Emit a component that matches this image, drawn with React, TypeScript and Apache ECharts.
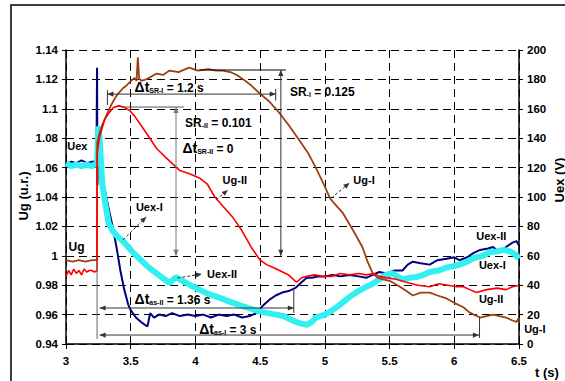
import React, { useEffect, useRef } from "react";
import * as echarts from "echarts";

const FONT = '"Liberation Sans", Arial, Helvetica, sans-serif';

// Ug-I (brown, left axis, u.r.)
const ugITime = [3.0, 3.05, 3.1, 3.15, 3.2, 3.24, 3.241, 3.26, 3.28, 3.31, 3.34, 3.37, 3.4, 3.44, 3.47, 3.49, 3.53, 3.545, 3.555, 3.565, 3.58, 3.62, 3.66, 3.7, 3.75, 3.8, 3.87, 3.95, 4.02, 4.1, 4.16, 4.21, 4.27, 4.32, 4.37, 4.43, 4.49, 4.57, 4.65, 4.72, 4.8, 4.87, 4.93, 5.0, 5.04, 5.09, 5.14, 5.22, 5.29, 5.33, 5.37, 5.41, 5.45, 5.5, 5.58, 5.63, 5.68, 5.74, 5.81, 5.87, 5.94, 6.0, 6.07, 6.11, 6.15, 6.2, 6.25, 6.3, 6.35, 6.4, 6.45, 6.48, 6.5];
const ugIValues = [0.997, 0.996, 0.997, 0.996, 0.997, 0.997, 1.077, 1.084, 1.089, 1.095, 1.101, 1.106, 1.11, 1.114, 1.116, 1.118, 1.121, 1.119, 1.135, 1.121, 1.119, 1.12, 1.122, 1.124, 1.123, 1.126, 1.125, 1.128, 1.126, 1.127, 1.126, 1.126, 1.125, 1.123, 1.12, 1.116, 1.111, 1.105, 1.097, 1.089, 1.079, 1.07, 1.06, 1.047, 1.039, 1.034, 1.029, 1.017, 1.006, 0.996, 0.988, 0.985, 0.984, 0.983, 0.979, 0.976, 0.973, 0.975, 0.975, 0.973, 0.971, 0.968, 0.965, 0.962, 0.96, 0.958, 0.959, 0.96, 0.959, 0.958, 0.956, 0.955, 0.958];

// Ug-II (red, left axis, u.r.)
const ugIITime = [3.0, 3.02, 3.04, 3.06, 3.08, 3.1, 3.12, 3.14, 3.16, 3.18, 3.2, 3.22, 3.24, 3.241, 3.26, 3.3, 3.33, 3.37, 3.41, 3.45, 3.49, 3.53, 3.57, 3.64, 3.7, 3.77, 3.83, 3.88, 3.95, 4.03, 4.09, 4.15, 4.22, 4.29, 4.36, 4.43, 4.5, 4.55, 4.6, 4.65, 4.72, 4.78, 4.82, 4.86, 4.92, 4.98, 5.05, 5.12, 5.19, 5.26, 5.32, 5.38, 5.42, 5.48, 5.55, 5.63, 5.72, 5.81, 5.88, 5.95, 6.02, 6.07, 6.12, 6.17, 6.25, 6.33, 6.4, 6.45, 6.5];
const ugIIValues = [0.986, 0.99, 0.987, 0.991, 0.988, 0.99, 0.987, 0.991, 0.989, 0.99, 0.99, 0.989, 0.99, 1.07, 1.081, 1.093, 1.097, 1.101, 1.102, 1.101, 1.099, 1.095, 1.09, 1.081, 1.073, 1.067, 1.062, 1.058, 1.056, 1.053, 1.049, 1.04, 1.033, 1.026, 1.017, 1.006, 0.997, 0.994, 0.992, 0.99, 0.987, 0.982, 0.985, 0.986, 0.987, 0.986, 0.986, 0.988, 0.987, 0.988, 0.987, 0.988, 0.986, 0.985, 0.984, 0.982, 0.98, 0.979, 0.981, 0.98, 0.979, 0.979, 0.977, 0.975, 0.977, 0.978, 0.977, 0.979, 0.98];

// Uex-II (navy, right axis, V)
const uexIITime = [3.0, 3.04, 3.08, 3.12, 3.16, 3.2, 3.235, 3.24, 3.243, 3.25, 3.26, 3.28, 3.3, 3.33, 3.36, 3.39, 3.42, 3.45, 3.48, 3.5, 3.54, 3.58, 3.61, 3.63, 3.65, 3.68, 3.72, 3.77, 3.82, 3.88, 3.94, 4.0, 4.06, 4.12, 4.18, 4.24, 4.3, 4.36, 4.42, 4.47, 4.52, 4.57, 4.62, 4.67, 4.72, 4.77, 4.82, 4.86, 4.9, 4.95, 5.0, 5.06, 5.12, 5.19, 5.26, 5.32, 5.37, 5.42, 5.48, 5.54, 5.6, 5.64, 5.68, 5.74, 5.81, 5.87, 5.94, 6.0, 6.04, 6.1, 6.15, 6.2, 6.26, 6.3, 6.35, 6.4, 6.45, 6.48, 6.5];
const uexIIValues = [122, 124, 123, 125, 123, 124, 124, 188, 108, 140, 125, 113, 105, 92, 80, 66, 50, 37, 27, 23, 18, 15, 13, 12, 21, 18, 20, 19, 21, 19, 20, 19, 20, 18, 20, 19, 20, 18, 19, 21, 26, 30, 33, 35, 36, 38, 42, 45, 45, 46, 46, 47, 46, 47, 46, 45, 47, 49, 48, 50, 50, 54, 56, 55, 54, 57, 58, 59, 57, 59, 62, 64, 65, 66, 62, 66, 69, 70, 67];

// Uex-I (cyan, right axis, V)
const uexITime = [3.0, 3.04, 3.08, 3.12, 3.16, 3.2, 3.24, 3.25, 3.26, 3.28, 3.31, 3.33, 3.36, 3.4, 3.44, 3.48, 3.52, 3.58, 3.64, 3.7, 3.76, 3.8, 3.85, 3.9, 3.96, 4.03, 4.1, 4.2, 4.29, 4.39, 4.5, 4.56, 4.62, 4.68, 4.75, 4.81, 4.86, 4.9, 4.93, 5.0, 5.06, 5.12, 5.19, 5.26, 5.32, 5.37, 5.42, 5.47, 5.52, 5.56, 5.6, 5.65, 5.71, 5.76, 5.81, 5.88, 5.94, 6.0, 6.04, 6.1, 6.15, 6.22, 6.28, 6.33, 6.38, 6.43, 6.47, 6.5];
const uexIValues = [123, 121, 122, 121, 122, 121, 123, 148, 140, 109, 92, 82, 77, 73, 70, 66, 62, 57, 52, 48, 44, 41.5, 45.5, 43, 40, 37, 34, 31, 28, 25, 22, 21, 20, 19, 16, 14, 13, 15, 18, 20, 23, 27, 32, 36, 39, 41, 44, 47, 48, 46, 44, 45, 45.6, 47, 49, 50, 52, 53, 54, 56, 58.5, 60, 62.6, 63, 64, 63, 61, 58];

const pairs = (t: number[], v: number[]) => t.map((x, i) => [x, v[i]]);

export default function App() {
  const ref = useRef<HTMLDivElement>(null);

  useEffect(() => {
    document.body.style.margin = "0";
    const chart = echarts.init(ref.current!, null, { renderer: "svg" });
    const labelStyle = { color: "#000", fontWeight: "bold", fontSize: 11.5, fontFamily: FONT };
    const dashed = { show: true, lineStyle: { color: "#000", width: 1, type: [8, 5] as any } };
    chart.setOption({
      animation: false,
      backgroundColor: "#fff",
      grid: { left: 66, right: 46, top: 50, bottom: 37, containLabel: false },
      xAxis: {
        type: "value", min: 3, max: 6.5, interval: 0.5,
        axisLine: { show: true, onZero: false, lineStyle: { color: "#000", width: 1.5 } },
        axisTick: { show: true, length: 5, lineStyle: { color: "#000" } },
        axisLabel: { ...labelStyle, margin: 11, formatter: (v: number) => String(+v.toFixed(2)) },
        splitLine: dashed,
      },
      yAxis: [
        {
          type: "value", min: 0.94, max: 1.14, interval: 0.02, position: "left",
          axisLine: { show: true, lineStyle: { color: "#000", width: 1.5 } },
          axisTick: { show: true, length: 4, lineStyle: { color: "#000" } },
          axisLabel: { ...labelStyle, margin: 8, formatter: (v: number) => String(+v.toFixed(2)) },
          splitLine: dashed,
        },
        {
          type: "value", min: 0, max: 200, interval: 20, position: "right",
          axisLine: { show: true, lineStyle: { color: "#000", width: 1.5 } },
          axisTick: { show: true, length: 4, lineStyle: { color: "#000" } },
          axisLabel: { ...labelStyle, margin: 8 },
          splitLine: { show: false },
        },
      ],
      series: [
        { name: "Uex-II", type: "line", yAxisIndex: 1, data: pairs(uexIITime, uexIIValues), symbol: "none", lineStyle: { color: "#000080", width: 2 } },
        { name: "Uex-I", type: "line", yAxisIndex: 1, data: pairs(uexITime, uexIValues), symbol: "none", lineStyle: { color: "#33F0F0", width: 6 } },
        { name: "Ug-I", type: "line", yAxisIndex: 0, data: pairs(ugITime, ugIValues), symbol: "none", lineStyle: { color: "#9C3F12", width: 1.8 } },
        { name: "Ug-II", type: "line", yAxisIndex: 0, data: pairs(ugIITime, ugIIValues), symbol: "none", lineStyle: { color: "#FF0000", width: 1.6 } },
      ],
    });

    const px = (t: number, v: number) => chart.convertToPixel({ seriesIndex: 2 }, [t, v]) as number[];
    const els: any[] = [];
    const line = (a: number[], b: number[], stroke = "#333", dash?: number[]) => {
      const p1 = px(a[0], a[1]);
      const p2 = px(b[0], b[1]);
      els.push({ type: "line", z: 50, shape: { x1: p1[0], y1: p1[1], x2: p2[0], y2: p2[1] }, style: { stroke, lineWidth: 1, lineDash: dash } });
      return [p1, p2];
    };
    const head = (tip: number[], from: number[], fill = "#333") => {
      const dx = tip[0] - from[0];
      const dy = tip[1] - from[1];
      const L = Math.hypot(dx, dy) || 1;
      const ux = dx / L, uy = dy / L;
      const nx = -uy, ny = ux;
      const len = 6, w = 2.6;
      els.push({
        type: "polygon", z: 51,
        shape: { points: [[tip[0], tip[1]], [tip[0] - ux * len + nx * w, tip[1] - uy * len + ny * w], [tip[0] - ux * len - nx * w, tip[1] - uy * len - ny * w]] },
        style: { fill },
      });
    };
    const arrow2 = (a: number[], b: number[], stroke = "#333") => {
      const [p1, p2] = line(a, b, stroke);
      head(p1, p2, stroke);
      head(p2, p1, stroke);
    };
    const arrow1 = (a: number[], b: number[], stroke = "#333", dash?: number[]) => {
      const [p1, p2] = line(a, b, stroke, dash);
      head(p2, p1, stroke);
    };
    const rich = {
      d: { fontSize: 14, fontWeight: "bold", fontFamily: FONT, fill: "#000", verticalAlign: "bottom" },
      s: { fontSize: 7, fontWeight: "bold", fontFamily: FONT, fill: "#000", verticalAlign: "bottom" },
      n: { fontSize: 12, fontWeight: "bold", fontFamily: FONT, fill: "#000", verticalAlign: "bottom" },
    };
    const text = (t: number, v: number, s: string, size = 12, useRich = false) => {
      const p = px(t, v);
      els.push({
        type: "text", z: 60, x: p[0], y: p[1],
        style: {
          text: s, fill: "#000", fontSize: size, fontWeight: "bold", fontFamily: FONT,
          textAlign: "left", textVerticalAlign: "middle", align: "left", verticalAlign: "middle",
          rich: useRich ? rich : undefined,
        },
      });
    };

    // reference line at the disturbance instant
    line([3.24, 0.996], [3.24, 0.9434], "#666");
    // Δt SR-I
    arrow2([3.32, 1.11], [4.62, 1.11]);
    line([3.32, 1.1127], [3.32, 1.1026]);
    line([4.62, 1.1135], [4.62, 1.1055]);
    // SR-I
    line([4.03, 1.1264], [4.7, 1.1264], "#000");
    arrow2([4.66, 1.1264], [4.66, 1.0], "#333");
    // SR-II
    line([3.43, 1.1012], [3.91, 1.1012], "#555");
    arrow2([3.85, 1.1012], [3.85, 1.0], "#777");
    // Δt as-II
    arrow2([3.26, 0.9645], [4.76, 0.9645]);
    line([4.76, 0.9767], [4.76, 0.9611]);
    // Δt as-I
    arrow2([3.26, 0.9461], [6.19, 0.9461]);
    line([6.195, 0.9584], [6.195, 0.9441]);

    // dashed leader arrows
    arrow1([3.44, 1.0108], [3.62, 1.0264], "#333", [3, 2]);
    arrow1([3.86, 0.9849], [4.05, 0.9876], "#333", [3, 2]);
    arrow1([4.16, 1.038], [4.25, 1.0448], "#333", [3, 2]);
    arrow1([5.05, 1.0393], [5.19, 1.0495], "#333", [3, 2]);

    // annotation texts
    text(3.53, 1.1148, "{d|Δt}{s|SR-I}{n| = 1.2 s}", 12, true);
    text(4.73, 1.1114, "{n|SR}{s|-I}{n| = 0.125}", 12, true);
    text(3.92, 1.0903, "{n|SR}{s|-II}{n| = 0.101}", 12, true);
    text(3.9, 1.0733, "{d|Δt}{s|SR-II}{n| = 0}", 12, true);
    text(3.53, 0.9706, "{d|Δt}{s|as-II}{n| = 1.36 s}", 12, true);
    text(4.03, 0.9502, "{d|Δt}{s|as-I}{n| = 3 s}", 12, true);
    text(3.01, 1.0747, "Uex", 11);
    text(3.02, 1.006, "Ug", 12);
    text(3.54, 1.0332, "Uex-I", 11);
    text(4.09, 0.9876, "Uex-II", 11);
    text(4.21, 1.0516, "Ug-II", 11);
    text(5.22, 1.0516, "Ug-I", 11);
    text(6.17, 1.0135, "Uex-II", 11);
    text(6.19, 0.9937, "Uex-I", 11);
    text(6.19, 0.9706, "Ug-II", 11);
    text(6.54, 0.9502, "Ug-I", 11);

    // axis names and frame
    els.push({ type: "text", z: 60, x: 23, y: 196, rotation: Math.PI / 2, style: { text: "Ug (u.r.)", fill: "#000", fontSize: 13, fontWeight: "bold", fontFamily: FONT, textAlign: "center", textVerticalAlign: "middle", align: "center", verticalAlign: "middle" } });
    els.push({ type: "text", z: 60, x: 559, y: 180, rotation: Math.PI / 2, style: { text: "Uex (V)", fill: "#000", fontSize: 13, fontWeight: "bold", fontFamily: FONT, textAlign: "center", textVerticalAlign: "middle", align: "center", verticalAlign: "middle" } });
    els.push({ type: "text", z: 60, x: 547, y: 372, style: { text: "t (s)", fill: "#000", fontSize: 13, fontWeight: "bold", fontFamily: FONT, textAlign: "center", textVerticalAlign: "middle", align: "center", verticalAlign: "middle" } });
    els.push({ type: "polyline", z: 40, shape: { points: [[11, 390], [11, 5], [575, 5]] }, style: { stroke: "#000", lineWidth: 1.5, fill: "none" } });

    chart.setOption({ graphic: els });
    return () => chart.dispose();
  }, []);

  return <div ref={ref} style={{ position: "fixed", left: 0, top: 0, width: 565, height: 381, background: "#fff" }} />;
}
